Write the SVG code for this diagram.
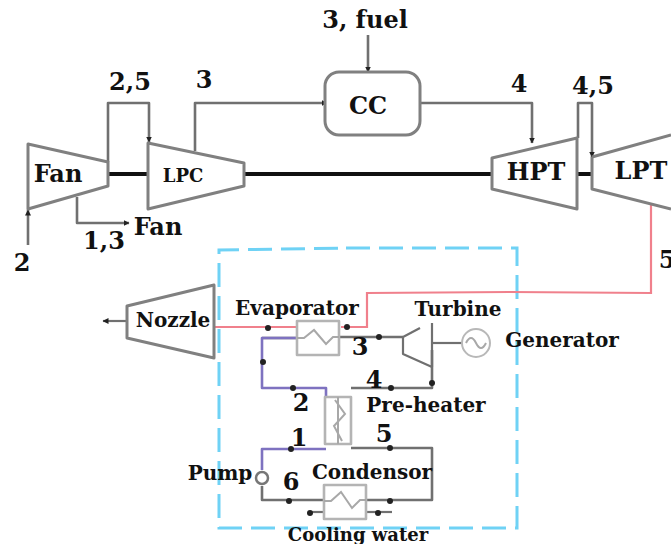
<svg xmlns="http://www.w3.org/2000/svg" width="671" height="544" viewBox="0 0 671 544">
<style>
text{font-family:"DejaVu Serif","Liberation Serif",serif;font-weight:bold;fill:#111}
.l{font-size:24px;font-family:"DejaVu Serif",serif}
.m{font-size:20px}
.s{font-size:18px}
.g{fill:#fff;stroke:#808080;stroke-width:3;stroke-linejoin:round}
.c{fill:none;stroke:#707070;stroke-width:2.6;stroke-linejoin:round}
.k{fill:none;stroke:#707070;stroke-width:2.2;stroke-linejoin:round}
.h{fill:#fff;stroke:#b4b4b4;stroke-width:2.6;stroke-linejoin:round}
.t{fill:none;stroke:#a8a8a8;stroke-width:2}
.shaft{fill:none;stroke:#111;stroke-width:4}
.r{fill:none;stroke:#f0808c;stroke-width:2.2}
.p{fill:none;stroke:#7e72c0;stroke-width:2.6;stroke-linejoin:round}
.b{fill:none;stroke:#6fd2f5;stroke-width:3}
.d{fill:#222}
</style>
<defs>
<marker id="a" markerWidth="7" markerHeight="7" refX="5.5" refY="3" orient="auto" markerUnits="userSpaceOnUse"><path d="M0,0L6,3L0,6z" fill="#222"/></marker>
</defs>
<g id="boundary"><path class="b" d="M346,248H517V528H219V250L346,248" stroke-dasharray="24 9"/></g>
<g id="connectors">
<path class="shaft" d="M108,174H148M244,174H492M577,174H592"/>
<path class="c" d="M108,162V103H149V142" marker-end="url(#a)"/>
<path class="c" d="M195,151V103H327" marker-end="url(#a)"/>
<path class="c" d="M368,35V72" marker-end="url(#a)"/>
<path class="c" d="M420,103H532V143" marker-end="url(#a)"/>
<path class="c" d="M578,138V103H592V157" marker-end="url(#a)"/>
<path class="c" d="M28,245V210" marker-end="url(#a)"/>
<path class="c" d="M77,197V223H129" marker-end="url(#a)"/>
<path class="r" d="M651,203V293L510,292L367,293V327H341M297,327H213"/>
<path class="k" d="M129,321H103" marker-end="url(#a)"/>
<path class="c" d="M262,338H298M339,337H403"/>
<path class="p" d="M297,338H262V388H326V397"/>
<path class="c" d="M351,388H432V350"/>
<path class="p" d="M326,449H262V470"/>
<path class="c" d="M262,486V500H323"/>
<path class="c" d="M351,448H432V500H366"/>
<path class="k" d="M310,512H323"/>
<path class="k" d="M366,512H392" stroke="#7e72c0"/>
<path class="k" d="M433,343H463"/>
</g>
<g id="dots" class="d">
<circle cx="268" cy="328" r="3"/><circle cx="347" cy="327" r="3"/><circle cx="263" cy="362" r="3"/>
<circle cx="293" cy="388" r="3"/><circle cx="291" cy="449" r="3"/><circle cx="289" cy="501" r="3"/>
<circle cx="379" cy="337" r="3"/><circle cx="391" cy="388" r="3"/><circle cx="432" cy="383" r="3"/>
<circle cx="390" cy="448" r="3"/><circle cx="390" cy="501" r="3"/><circle cx="310" cy="513" r="3"/><circle cx="378" cy="513" r="3"/>
</g>
<g id="fan"><path class="g" d="M28,144L108,162V186L28,209Z"/><text class="l" x="58" y="182" text-anchor="middle" font-size="23">Fan</text></g>
<g id="lpc"><path class="g" d="M148,143L244,163V186L148,209Z"/><text x="183" y="182" text-anchor="middle" font-size="18">LPC</text></g>
<g id="cc"><rect class="g" x="325" y="72" width="95" height="63" rx="14"/><text class="l" x="368" y="114" text-anchor="middle">CC</text></g>
<g id="hpt"><path class="g" d="M492,158L577,138V209L492,189Z"/><text class="l" x="536" y="180" text-anchor="middle">HPT</text></g>
<g id="lpt"><path class="g" d="M592,157L671,135M592,157V189L671,209" /><text class="l" x="641" y="179" text-anchor="middle">LPT</text></g>
<g id="nozzle"><path class="g" d="M127,306L214,285V358L127,338Z"/><text class="m" x="173" y="327" text-anchor="middle" font-size="19">Nozzle</text></g>
<g id="evaporator"><rect class="h" x="297" y="321" width="42" height="34"/><path class="t" d="M297,338H304L314,330L326,344L333,337H339"/><text class="m" x="297" y="315" text-anchor="middle">Evaporator</text></g>
<g id="preheater"><path class="h" d="M325,397H351V444H325Z"/><path class="t" d="M338,397V444M335,400L345,414L334,426L342,441"/><text class="m" x="426" y="412" text-anchor="middle">Pre-heater</text></g>
<g id="condensor"><rect class="h" x="324" y="485" width="42" height="34"/><path class="t" d="M324,501H331L341,492L352,508L360,500H366"/><text class="m" x="372" y="479" text-anchor="middle">Condensor</text></g>
<g id="turbine"><path class="k" d="M403,337L420,328M403,337V354L432,367M432,323V367"/><text class="m" x="458" y="316" text-anchor="middle">Turbine</text></g>
<g id="generator"><circle cx="476" cy="343" r="14" fill="#fff" stroke="#b8b8b8" stroke-width="2"/><path class="t" d="M466,343Q471,333 476,343T486,343" stroke="#888"/><text class="m" x="562" y="347" text-anchor="middle" font-size="18">Generator</text></g>
<g id="pump"><circle cx="262" cy="478" r="6" fill="#fff" stroke="#777" stroke-width="2.5"/><text class="m" x="220" y="480" text-anchor="middle">Pump</text></g>
<g id="labels">
<text class="l" x="365" y="28" text-anchor="middle">3, fuel</text>
<text class="l" x="130" y="90" text-anchor="middle">2,5</text>
<text class="l" x="204" y="88" text-anchor="middle">3</text>
<text class="l" x="519" y="92" text-anchor="middle">4</text>
<text class="l" x="593" y="94" text-anchor="middle">4,5</text>
<text class="l" x="22" y="271" text-anchor="middle">2</text>
<text class="l" x="104" y="249" text-anchor="middle">1,3</text>
<text class="l" x="158" y="235" text-anchor="middle">Fan</text>
<text class="l" x="667" y="268" text-anchor="middle">5</text>
<text class="l" x="360" y="355" text-anchor="middle" font-family="DejaVu Sans">3</text>
<text class="l" x="374" y="388" text-anchor="middle" font-family="DejaVu Sans">4</text>
<text class="l" x="301" y="411" text-anchor="middle" font-family="DejaVu Sans">2</text>
<text class="l" x="299" y="446" text-anchor="middle" font-family="DejaVu Sans">1</text>
<text class="l" x="384" y="442" text-anchor="middle" font-family="DejaVu Sans">5</text>
<text class="l" x="291" y="490" text-anchor="middle" font-family="DejaVu Sans">6</text>
<text class="s" x="358" y="541" text-anchor="middle">Cooling water</text>
</g>
</svg>
